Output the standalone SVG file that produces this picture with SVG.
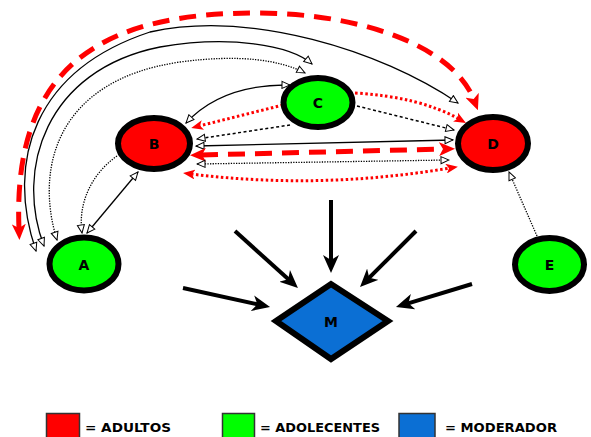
<svg xmlns="http://www.w3.org/2000/svg" width="591" height="437" viewBox="0 0 591 437">
<style>
.node{stroke:#000;stroke-width:6}
.red{fill:#ff0000}
.green{fill:#00ff00}
.blue{fill:#0b6fd4}
.lbl{font-family:"DejaVu Sans","Verdana",sans-serif;font-weight:bold;font-size:14px;text-anchor:middle;dominant-baseline:central;fill:#000}
.leg{font-family:"DejaVu Sans","Verdana",sans-serif;font-weight:bold;font-size:12px;fill:#000}
.legbox{stroke:#333;stroke-width:1.5}
.c{fill:none}
.solid{stroke:#000;stroke-width:1.3}
.dot{stroke:#000;stroke-width:1.3;stroke-dasharray:1.3,1.3}
.dash{stroke:#000;stroke-width:1.5;stroke-dasharray:3,2.5}
.rdash{stroke:#ff0000;stroke-width:5;stroke-dasharray:17,10}
.rdot{stroke:#ff0000;stroke-width:3;stroke-dasharray:2.5,2.5}
.big{stroke:#000;stroke-width:4}
</style>
<defs>
<marker id="open" viewBox="-1 -1 10 9" refX="8" refY="3.5" markerWidth="10" markerHeight="9" markerUnits="userSpaceOnUse" orient="auto-start-reverse">
<path d="M0,0 L8,3.5 L0,7 Z" fill="#fff" stroke="#000" stroke-width="1"/>
</marker>
<marker id="rbig" viewBox="0 0 16 14" refX="5" refY="7" markerWidth="16" markerHeight="14" markerUnits="userSpaceOnUse" orient="auto-start-reverse">
<path d="M0,0 L16,7 L0,14 L4,7 Z" fill="#ff0000"/>
</marker>
<marker id="rsm" viewBox="0 0 12 10" refX="4" refY="5" markerWidth="12" markerHeight="10" markerUnits="userSpaceOnUse" orient="auto-start-reverse">
<path d="M0,0 L12,5 L0,10 L3,5 Z" fill="#ff0000"/>
</marker>
<marker id="bbig" viewBox="0 0 18 16" refX="7" refY="8" markerWidth="18" markerHeight="16" markerUnits="userSpaceOnUse" orient="auto">
<path d="M0,0 L18,8 L0,16 L5,8 Z" fill="#000"/>
</marker>
</defs>

<g id="connectors">
<path class="c rdash" d="M19,229 C12,60 110,12 260,13 C370,14 455,50 474,100" marker-start="url(#rbig)" marker-end="url(#rbig)"/>
<path class="c solid" d="M36,251 C5,160 35,70 150,32 C250,10 380,50 458,103" marker-start="url(#open)" marker-end="url(#open)"/>
<path class="c solid" d="M44,246 C15,170 45,70 160,47 C230,35 290,45 312,64" marker-start="url(#open)" marker-end="url(#open)"/>
<path class="c dot" d="M57,240 C35,170 55,80 180,62 C240,54 280,60 305,73" marker-start="url(#open)" marker-end="url(#open)"/>
<path class="c solid" d="M186,123 Q222,84 290,85" marker-start="url(#open)" marker-end="url(#open)"/>
<path class="c rdot" d="M283,105 L199,126" marker-end="url(#rsm)"/>
<path class="c dash" d="M290,125 L197,139" marker-end="url(#open)"/>
<path class="c rdot" d="M355,93 Q420,97 459,119" marker-end="url(#rsm)"/>
<path class="c dash" d="M357,106 L454,130" marker-end="url(#open)"/>
<path class="c solid" d="M196,146 L453,140" marker-start="url(#open)" marker-end="url(#open)"/>
<path class="c rdash" d="M201,155 L444,149" marker-start="url(#rbig)" marker-end="url(#rbig)"/>
<path class="c dot" d="M197,164 L449,160" marker-start="url(#open)" marker-end="url(#open)"/>
<path class="c rdot" d="M191,174 Q320,190 450,168" marker-start="url(#rsm)" marker-end="url(#rsm)"/>
<path class="c solid" d="M87,233 L138,172" marker-start="url(#open)" marker-end="url(#open)"/>
<path class="c dot" d="M117,156 C90,175 78,205 82,233" marker-end="url(#open)"/>
<path class="c dot" d="M537,236 L509,172" marker-end="url(#open)"/>
<path class="c big" d="M183,288 L259.3,304.7" marker-end="url(#bbig)"/>
<path class="c big" d="M235,231 L289.8,280.6" marker-end="url(#bbig)"/>
<path class="c big" d="M331,200 L331,262" marker-end="url(#bbig)"/>
<path class="c big" d="M416,231 L367.8,279.2" marker-end="url(#bbig)"/>
<path class="c big" d="M472,284 L406.5,303.8" marker-end="url(#bbig)"/>
</g>

<g id="node-A"><ellipse class="node green" cx="84" cy="264" rx="34.5" ry="26.5"/><text class="lbl" x="84" y="265">A</text></g>
<g id="node-B"><ellipse class="node red" cx="154" cy="143.5" rx="36" ry="25.5"/><text class="lbl" x="154" y="144">B</text></g>
<g id="node-C"><ellipse class="node green" cx="318" cy="102.5" rx="34.5" ry="24.5"/><text class="lbl" x="318" y="103">C</text></g>
<g id="node-D"><ellipse class="node red" cx="493" cy="143.5" rx="35" ry="26.5"/><text class="lbl" x="493" y="144">D</text></g>
<g id="node-E"><ellipse class="node green" cx="549.5" cy="264.5" rx="34.5" ry="26.5"/><text class="lbl" x="549.5" y="265">E</text></g>
<g id="node-M"><path class="node blue" d="M276,321 L331,284 L388,321 L331,359 Z" stroke-linejoin="miter"/><text class="lbl" x="331" y="322">M</text></g>

<g id="legend">
<rect class="legbox red" x="46.5" y="413.5" width="33" height="26"/>
<text class="leg" x="85" y="431.5" textLength="86" lengthAdjust="spacingAndGlyphs">= ADULTOS</text>
<rect class="legbox green" x="222.5" y="413.5" width="32" height="26"/>
<text class="leg" x="260" y="431.5" textLength="120" lengthAdjust="spacingAndGlyphs">= ADOLECENTES</text>
<rect class="legbox blue" x="399" y="413.5" width="36" height="26"/>
<text class="leg" x="445" y="431.5" textLength="112" lengthAdjust="spacingAndGlyphs">= MODERADOR</text>
</g>
</svg>
